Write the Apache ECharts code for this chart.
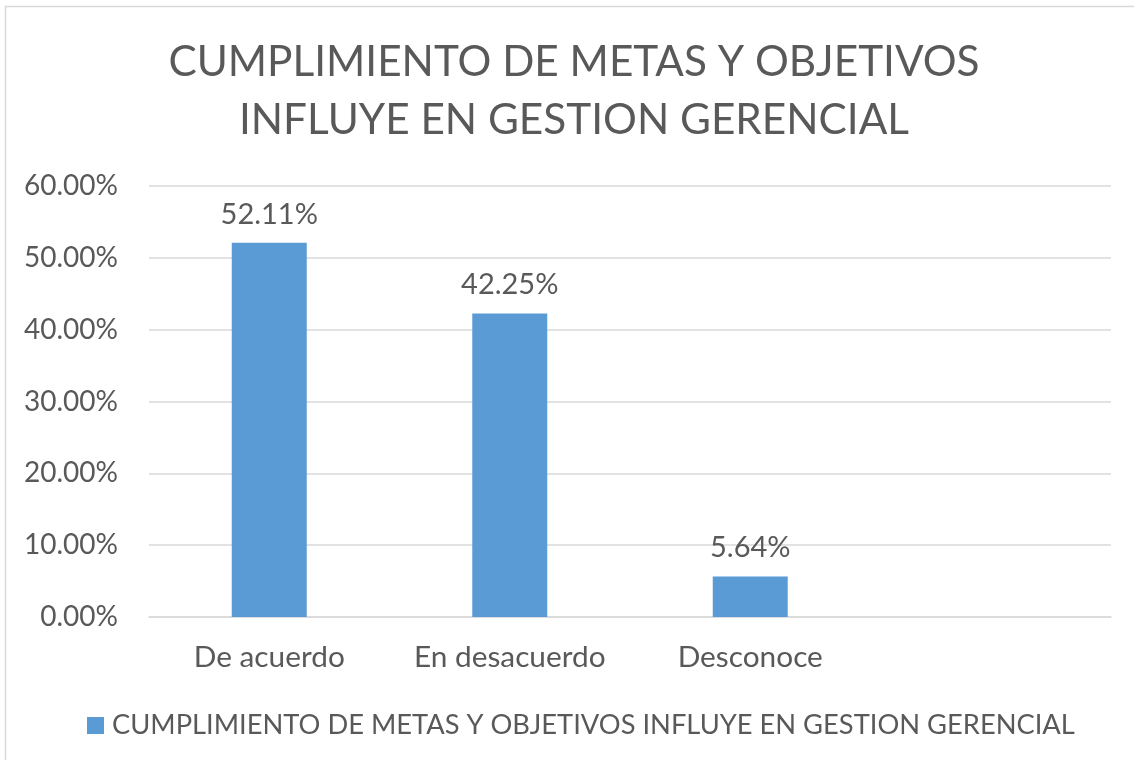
<!DOCTYPE html>
<html>
<head>
<meta charset="utf-8">
<script src="https://cdn.jsdelivr.net/npm/echarts@6/dist/echarts.min.js"></script>
<style>
html,body{margin:0;padding:0;background:#fff;}
#chart{width:1134px;height:760px;}
</style>
</head>
<body>
<div id="chart"></div>
<script>
const titleLines = ['CUMPLIMIENTO DE METAS Y OBJETIVOS', 'INFLUYE EN GESTION GERENCIAL'];
const seriesName = 'CUMPLIMIENTO DE METAS Y OBJETIVOS INFLUYE EN GESTION GERENCIAL';
const categories = ['De acuerdo', 'En desacuerdo', 'Desconoce', ''];
const values = [52.11, 42.25, 5.64, null];
const yTicks = [0, 10, 20, 30, 40, 50, 60];

const FONT = 'Lato';
const TXT = '#595959';
const chart = echarts.init(document.getElementById('chart'), null, {renderer: 'canvas'});
chart.setOption({
  backgroundColor: '#fff',
  animation: false,
  graphic: [{
    type: 'rect', silent: true,
    shape: {x: 5.5, y: 6.5, width: 1200, height: 800},
    style: {fill: 'none', stroke: '#d9d9d9', lineWidth: 1.5}
  }],
  title: {
    text: titleLines.join('\n'),
    left: 569, top: 28, textAlign: 'center',
    textStyle: {fontFamily: FONT, fontSize: 42.3, fontWeight: 'normal', color: TXT, lineHeight: 58}
  },
  legend: {
    left: 82, top: 707,
    itemWidth: 17, itemHeight: 17,
    icon: 'rect',
    textStyle: {fontFamily: FONT, fontSize: 27.3, color: TXT, padding: [0, 0, 0, 3]},
    data: [seriesName]
  },
  grid: {left: 149, right: 23, top: 186, bottom: 143, containLabel: false},
  xAxis: {
    type: 'category',
    data: categories,
    axisLine: {lineStyle: {color: '#d9d9d9', width: 1.5}},
    axisTick: {show: false},
    axisLabel: {fontFamily: FONT, fontSize: 29.8, color: TXT, margin: 25, interval: 0}
  },
  yAxis: {
    type: 'value',
    min: yTicks[0], max: yTicks[yTicks.length - 1], interval: 10,
    axisLine: {show: false},
    axisTick: {show: false},
    splitLine: {lineStyle: {color: '#d9d9d9', width: 1.5}},
    axisLabel: {fontFamily: FONT, fontSize: 28, color: TXT, margin: 31,
      formatter: v => v.toFixed(2) + '%'}
  },
  series: [{
    name: seriesName,
    type: 'bar',
    data: values,
    barWidth: 75,
    itemStyle: {color: '#5B9BD5'},
    label: {
      show: true, position: 'top', distance: 14,
      fontFamily: FONT, fontSize: 29, color: TXT,
      formatter: p => p.value.toFixed(2) + '%'
    }
  }]
});
</script>
</body>
</html>
